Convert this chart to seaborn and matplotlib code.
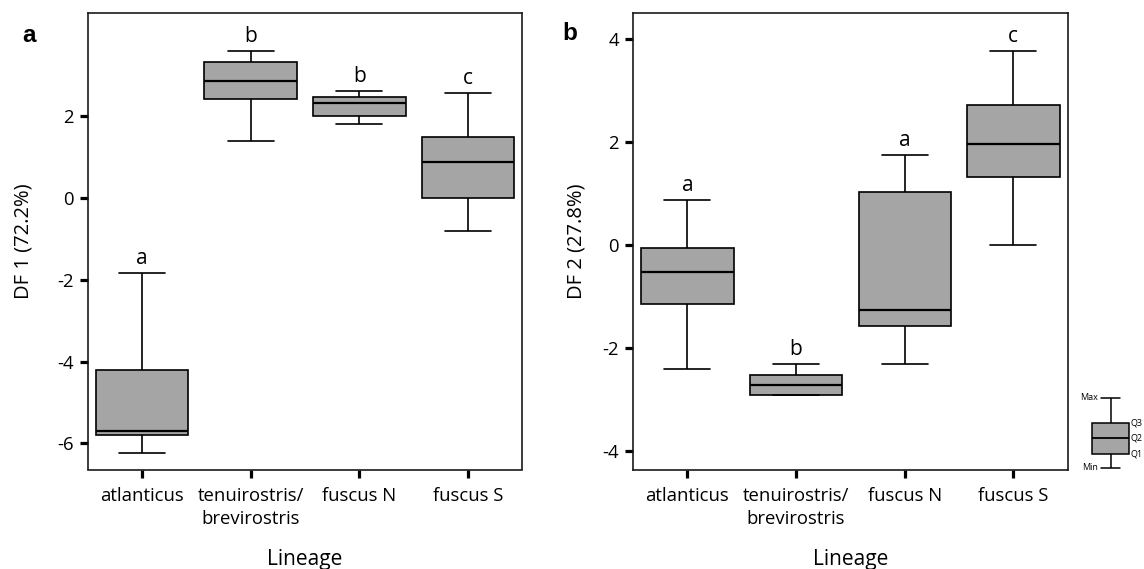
import numpy as np
import pandas as pd
import matplotlib
matplotlib.use("Agg")
import matplotlib.pyplot as plt
import seaborn as sns

# ---------------- data ----------------
lineages = ["atlanticus", "tenuirostris/\nbrevirostris", "fuscus N", "fuscus S"]

# DF 1 (panel a): five-number summaries
df1_min = [-6.23, 1.39, 1.80, -0.82]
df1_q1 = [-5.80, 2.42, 2.01, 0.00]
df1_med = [-5.69, 2.87, 2.32, 0.87]
df1_q3 = [-4.21, 3.32, 2.46, 1.49]
df1_max = [-1.84, 3.60, 2.62, 2.57]
df1_letters = ["a", "b", "b", "c"]

# DF 2 (panel b)
df2_min = [-2.40, -2.92, -2.31, 0.00]
df2_q1 = [-1.14, -2.92, -1.58, 1.32]
df2_med = [-0.53, -2.72, -1.26, 1.96]
df2_q3 = [-0.05, -2.52, 1.03, 2.72]
df2_max = [0.88, -2.31, 1.76, 3.78]
df2_letters = ["a", "b", "a", "c"]

df1_ticks = [-6, -4, -2, 0, 2]
df2_ticks = [-4, -2, 0, 2, 4]

# schematic key box
key_stats = [0.0, 14.0, 30.0, 45.3, 70.0]


def long_frame(mins, q1s, meds, q3s, maxs):
    rows = []
    for lab, a, b, c, d, e in zip(lineages, mins, q1s, meds, q3s, maxs):
        for v in (a, b, c, d, e):
            rows.append({"Lineage": lab, "value": v})
    return pd.DataFrame(rows)


d1 = long_frame(df1_min, df1_q1, df1_med, df1_q3, df1_max)
d2 = long_frame(df2_min, df2_q1, df2_med, df2_q3, df2_max)

# ---------------- style ----------------
sns.set_style("ticks")
plt.rcParams["font.family"] = ["Open Sans", "DejaVu Sans"]
plt.rcParams["axes.unicode_minus"] = False
plt.rcParams["text.color"] = "black"
plt.rcParams["axes.labelcolor"] = "black"
plt.rcParams["xtick.color"] = "black"
plt.rcParams["ytick.color"] = "black"

W, H = 1144, 569
fig = plt.figure(figsize=(W / 100, H / 100), dpi=100)


def fx(px):
    return px / W


def fy(px):
    return 1 - px / H


ax1 = fig.add_axes([fx(87.7), fy(469.5), fx(522.3 - 87.7), (469.5 - 12.7) / H])
ax2 = fig.add_axes([fx(633.0), fy(469.5), fx(1067.7 - 633.0), (469.5 - 12.7) / H])

box_kw = dict(
    x="Lineage", y="value", order=lineages, color="#a5a5a5", saturation=1,
    width=0.85, whis=(0, 100), linewidth=1.2, linecolor="black", fliersize=0,
    medianprops=dict(linewidth=1.6, color="black"),
)

for ax, d, maxs, letters, ylim, ticks, ylab, ylab_x in [
    (ax1, d1, df1_max, df1_letters, (-6.64, 4.53), df1_ticks, "DF 1 (72.2%)", -0.148),
    (ax2, d2, df2_max, df2_letters, (-4.36, 4.52), df2_ticks, "DF 2 (27.8%)", -0.129),
]:
    sns.boxplot(data=d, ax=ax, **box_kw)
    ax.set_xlim(-0.5, 3.5)
    ax.set_ylim(*ylim)
    ax.set_yticks(ticks)
    ax.set_yticklabels([str(t) for t in ticks])
    for s in ax.spines.values():
        s.set_visible(True)
        s.set_linewidth(1.2)
        s.set_color("#1a1a1a")
    ax.tick_params(axis="both", direction="out", length=6, width=2.3,
                   color="black", labelcolor="black", labelsize=13.3, pad=4)
    ax.tick_params(axis="x", pad=6.5)
    for tl in ax.get_xticklabels():
        tl.set_linespacing(1.4)
    ax.set_ylabel(ylab, fontsize=14.5, va="center")
    ax.yaxis.set_label_coords(ylab_x, 0.5)
    ax.set_xlabel("Lineage", fontsize=15, va="center")
    ax.xaxis.set_label_coords(0.5, -0.196)
    for i, (lt, m) in enumerate(zip(letters, maxs)):
        ax.annotate(lt, xy=(i, m), xytext=(0, 6.5), textcoords="offset points",
                    ha="center", va="baseline", fontsize=15)

# panel letters
fig.text(fx(22), fy(36), "a", fontsize=17.5, fontweight="bold",
         family=["Liberation Sans", "DejaVu Sans"], va="center", ha="left")
fig.text(fx(562), fy(34), "b", fontsize=17.5, fontweight="bold",
         family=["Liberation Sans", "DejaVu Sans"], va="center", ha="left")

# key box
axk = fig.add_axes([fx(1090.5), fy(470), fx(40), 74 / H])
kd = pd.DataFrame({"g": ["k"] * 5, "value": key_stats})
sns.boxplot(data=kd, x="g", y="value", ax=axk, color="#a5a5a5", saturation=1,
            width=0.925, whis=(0, 100), linewidth=1.1, linecolor="black",
            fliersize=0, medianprops=dict(linewidth=1.3, color="black"))
axk.set_xlim(-0.5, 0.5)
axk.set_ylim(-2, 72)
axk.axis("off")
kfs = 6.5
fig.text(fx(1098), fy(398), "Max", fontsize=kfs, ha="right", va="center")
fig.text(fx(1098), fy(468), "Min", fontsize=kfs, ha="right", va="center")
fig.text(fx(1130.5), fy(423), "Q3", fontsize=kfs, ha="left", va="center")
fig.text(fx(1130.5), fy(438), "Q2", fontsize=kfs, ha="left", va="center")
fig.text(fx(1130.5), fy(453.5), "Q1", fontsize=kfs, ha="left", va="center")

fig.savefig("out.png", dpi=100)
